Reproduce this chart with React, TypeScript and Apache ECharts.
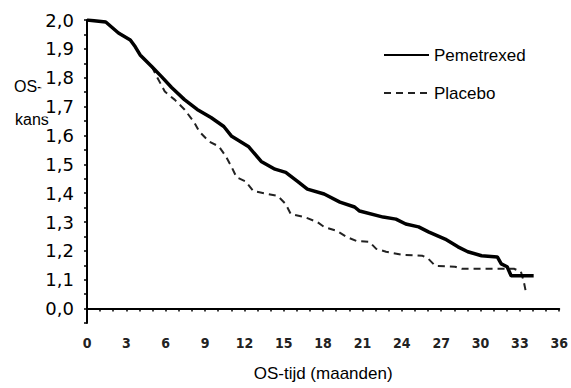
import React, { useEffect, useRef } from "react";
import * as echarts from "echarts";

// Y tick labels, indexed by axis position 0..10
const yTickLabels = ["0,0", "1,1", "1,2", "1,3", "1,4", "1,5", "1,6", "1,7", "1,8", "1,9", "2,0"];

// Pemetrexed (months, survival in label units)
const pemMonths = [0, 1.43, 2.4, 3.3, 3.68, 4.05, 4.95, 5.7, 6.45, 7.43, 8.4, 9.45, 10.43, 11.03, 12.3, 13.28, 14.33, 15.15, 16.05, 16.8, 18.08, 19.28, 20.4, 20.78, 22.58, 23.55, 24.3, 25.28, 26.03, 27.3, 28.28, 29.03, 30.08, 31.28, 31.58, 32.03, 32.33, 34.05];
const pemValues = [2.0, 1.993, 1.955, 1.931, 1.907, 1.879, 1.838, 1.803, 1.766, 1.724, 1.69, 1.662, 1.631, 1.597, 1.562, 1.51, 1.483, 1.472, 1.441, 1.414, 1.397, 1.369, 1.352, 1.338, 1.317, 1.31, 1.293, 1.283, 1.266, 1.241, 1.214, 1.197, 1.183, 1.179, 1.155, 1.145, 1.114, 1.114];

// Placebo
const plaMonths = [0, 1.43, 2.4, 3.3, 3.68, 4.05, 4.95, 5.33, 5.93, 6.68, 7.43, 8.18, 8.55, 9.3, 10.05, 10.58, 11.03, 11.4, 12.08, 12.68, 13.8, 14.55, 15.15, 15.53, 16.58, 17.55, 18.08, 19.05, 19.8, 20.55, 21.53, 22.05, 22.8, 24.08, 25.58, 26.03, 26.55, 28.05, 28.58, 32.55, 33.08, 33.3, 33.45];
const plaValues = [2.0, 1.993, 1.955, 1.931, 1.907, 1.879, 1.838, 1.803, 1.752, 1.724, 1.69, 1.645, 1.614, 1.579, 1.562, 1.528, 1.49, 1.455, 1.441, 1.407, 1.397, 1.39, 1.362, 1.328, 1.317, 1.3, 1.283, 1.269, 1.248, 1.234, 1.231, 1.207, 1.197, 1.186, 1.183, 1.172, 1.148, 1.145, 1.138, 1.138, 1.128, 1.093, 1.059];

const seriesNames = ["Pemetrexed", "Placebo"];

const toAxis = (v: number) => (v - 1.0) * 10;

export default function App() {
  const ref = useRef<HTMLDivElement>(null);
  useEffect(() => {
    if (!ref.current) return;
    const chart = echarts.init(ref.current, null, { renderer: "svg" });
    chart.setOption({
      animation: false,
      backgroundColor: "#fff",
      grid: { left: 87, right: 5, top: 20, bottom: 65 },
      graphic: [
        {
          type: "text",
          z: 0,
          left: 14,
          top: 78,
          style: { text: "OS-", fontSize: 16, fontFamily: "Liberation Sans, Arial, sans-serif", fill: "#000" },
        },
        {
          type: "text",
          z: 0,
          left: 15,
          top: 111,
          style: { text: "kans", fontSize: 16, fontFamily: "Liberation Sans, Arial, sans-serif", fill: "#000" },
        },
      ],
      legend: {
        data: seriesNames,
        orient: "vertical",
        left: 378,
        top: 40,
        itemWidth: 45,
        itemHeight: 14,
        itemGap: 18,
        itemStyle: { opacity: 0, color: "transparent", borderWidth: 0 },
        textStyle: { fontSize: 17, fontFamily: "Liberation Sans, Arial, sans-serif", color: "#000", lineHeight: 20 },
      },
      xAxis: {
        type: "value",
        min: 0,
        max: 36,
        interval: 1,
        name: "OS-tijd (maanden)",
        nameLocation: "middle",
        nameGap: 42,
        nameTextStyle: { fontSize: 17, fontFamily: "Liberation Sans, Arial, sans-serif", color: "#000" },
        axisLine: { lineStyle: { color: "#000", width: 2 } },
        axisTick: { length: 3, lineStyle: { color: "#000", width: 1.5 } },
        splitLine: { show: false },
        axisLabel: {
          margin: 13,
          fontSize: 14,
          fontWeight: "bold",
          fontFamily: "Liberation Sans Narrow, DejaVu Sans Condensed, sans-serif",
          color: "#222",
          formatter: (v: number) => (v % 3 === 0 ? String(v) : ""),
        },
      },
      yAxis: {
        type: "value",
        z: 10,
        min: -0.5,
        max: 10,
        interval: 0.5,
        axisLine: { show: true, lineStyle: { color: "#000", width: 2 } },
        axisTick: { show: true, length: 3, lineStyle: { color: "#000", width: 1.5 } },
        splitLine: { show: false },
        axisLabel: {
          margin: 12,
          fontSize: 18,
          fontFamily: "DejaVu Sans, sans-serif",
          color: "#000",
          backgroundColor: "#fff",
          padding: [1, 1, 1, 5],
          formatter: (v: number) => (Number.isInteger(v) && v >= 0 ? yTickLabels[v] : ""),
        },
      },
      series: [
        {
          name: "Placebo",
          type: "line",
          symbol: "none",
          z: 2,
          lineStyle: { color: "#222", width: 2, type: [7, 5] },
          itemStyle: { color: "#222" },
          data: plaMonths.map((m, i) => [m, toAxis(plaValues[i])]),
        },
        {
          name: "Pemetrexed",
          type: "line",
          symbol: "none",
          z: 3,
          lineStyle: { color: "#000", width: 3.5 },
          itemStyle: { color: "#000" },
          data: pemMonths.map((m, i) => [m, toAxis(pemValues[i])]),
        },
      ],
    });
    return () => chart.dispose();
  }, []);
  return <div ref={ref} style={{ width: 571, height: 388, position: "absolute", left: 0, top: 0 }} />;
}
